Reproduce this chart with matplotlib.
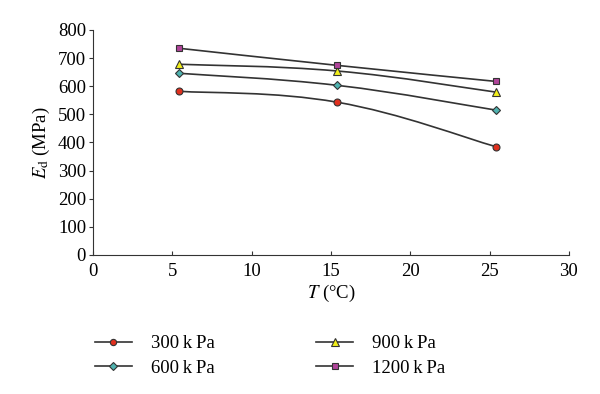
import numpy as np
import matplotlib.pyplot as plt
from matplotlib.path import Path
from matplotlib.patches import PathPatch
from matplotlib.lines import Line2D

plt.rcParams['font.family'] = ['Liberation Serif', 'DejaVu Serif']
plt.rcParams['mathtext.fontset'] = 'stix'

# temperatures (deg C)
T = [5.4, 15.4, 25.4]
# dynamic modulus (MPa) per confining pressure
ed_300 = [582, 543, 385]
ed_600 = [646, 603, 515]
ed_900 = [678, 654, 579]
ed_1200 = [735, 674, 617]

labels = ['300\u2009k\u2009Pa', '600\u2009k\u2009Pa', '900\u2009k\u2009Pa', '1200\u2009k\u2009Pa']
colors = ['#e0301e', '#4fb3b0', '#f2ef1a', '#b0449a']
markers = ['o', 'D', '^', 's']
msizes = [5, 4.5, 6, 5]


def smooth_path(x, y, t=0.2):
    # cubic bezier through the points (spreadsheet style smoothing)
    x = np.asarray(x, float)
    y = np.asarray(y, float)
    verts = [(x[0], y[0])]
    codes = [Path.MOVETO]
    n = len(x)
    for i in range(n - 1):
        p0 = (x[max(i - 1, 0)], y[max(i - 1, 0)])
        p1 = (x[i], y[i])
        p2 = (x[i + 1], y[i + 1])
        p3 = (x[min(i + 2, n - 1)], y[min(i + 2, n - 1)])
        c1 = (p1[0] + (p2[0] - p0[0]) * t, p1[1] + (p2[1] - p0[1]) * t)
        c2 = (p2[0] - (p3[0] - p1[0]) * t, p2[1] - (p3[1] - p1[1]) * t)
        verts += [c1, c2, p2]
        codes += [Path.CURVE4] * 3
    return Path(verts, codes)


fig = plt.figure(figsize=(6, 3.94), dpi=100)
ax = fig.add_axes([0.155, 0.353, 0.793, 0.571])

series = [ed_300, ed_600, ed_900, ed_1200]
for s, c, m, ms in zip(series, colors, markers, msizes):
    ax.add_patch(PathPatch(smooth_path(T, s), fill=False, edgecolor='#333333', lw=1.2, zorder=2))
    ax.plot(T, s, linestyle='none', marker=m, markersize=ms, markerfacecolor=c,
            markeredgecolor='#333333', markeredgewidth=0.8, zorder=3)

ax.set_xlim(0, 30)
ax.set_ylim(0, 800)
ax.set_xticks(range(0, 31, 5))
ax.set_yticks(range(0, 801, 100))
ax.spines['top'].set_visible(False)
ax.spines['right'].set_visible(False)
ax.spines['left'].set_color('#333333')
ax.spines['bottom'].set_color('#333333')
ax.tick_params(axis='x', direction='in', length=3, labelsize=13.5, pad=6, color='#333333')
ax.tick_params(axis='y', direction='out', length=3, labelsize=13.5, pad=2, color='#333333')
ax.set_xlabel(r'$T$ (°C)', fontsize=13.5, labelpad=2)
ax.set_ylabel(r'$E_\mathrm{d}$ (MPa)', fontsize=13.5, labelpad=4)

handles = [Line2D([0], [0], color='#333333', lw=1.2, marker=m, markersize=ms - 0.5,
                  markerfacecolor=c, markeredgecolor='#333333', markeredgewidth=0.8)
           for c, m, ms in zip(colors, markers, msizes)]
fig.legend(handles, labels, loc='upper left', bbox_to_anchor=(0.145, 0.168),
           ncol=2, frameon=False, fontsize=13.5, columnspacing=5.4,
           handlelength=2.0, handletextpad=1.0, labelspacing=0.4, borderaxespad=0)

fig.savefig('out.png', dpi=100)
